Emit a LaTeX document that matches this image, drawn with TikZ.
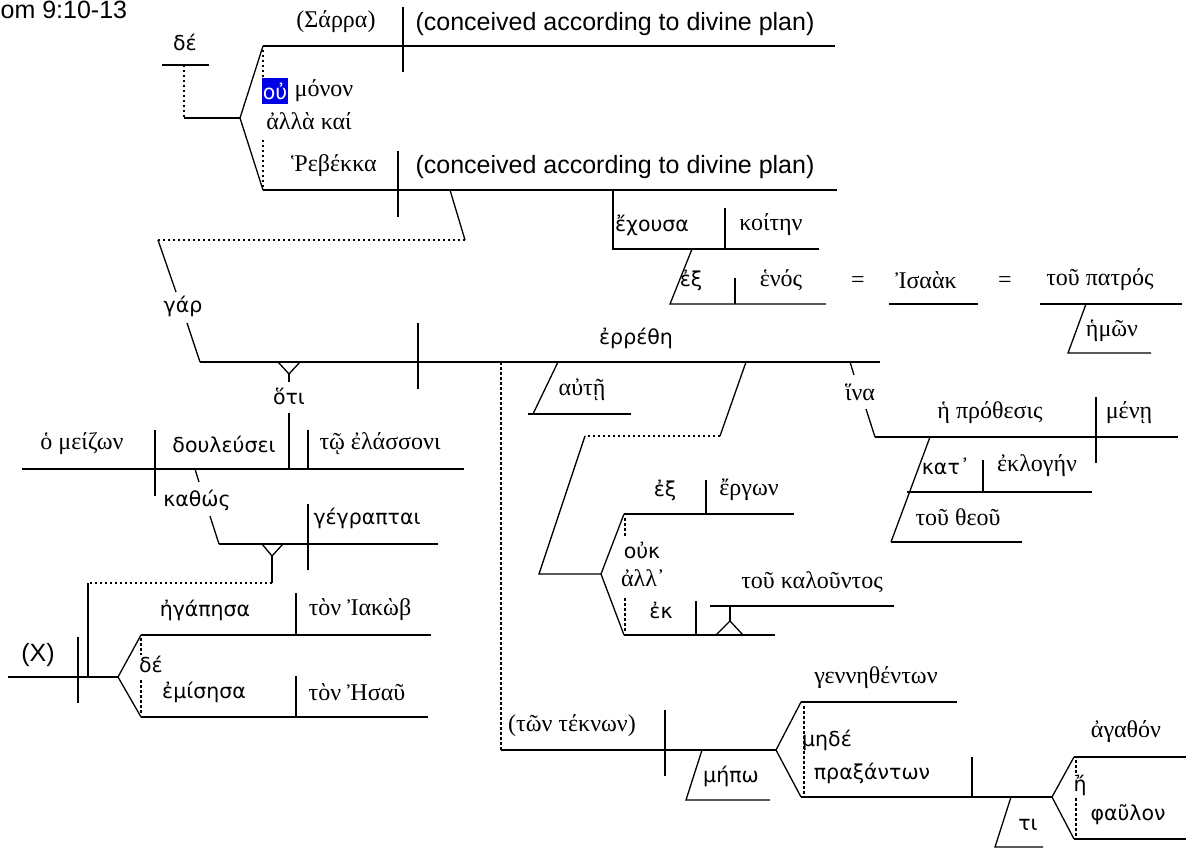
\documentclass[tikz,border=0pt]{standalone}
\usepackage{fontspec}
\setmainfont{Liberation Sans}
\newfontfamily\grserif{Liberation Serif}
\newfontfamily\grsans{DejaVu Sans}
\definecolor{hiblue}{RGB}{0,0,230}

\begin{document}
\begin{tikzpicture}[x=1pt,y=-1pt,line width=1.3pt,
    en/.style={inner sep=0pt,font=\fontsize{25}{28}\selectfont},
    gk/.style={inner sep=0pt,font=\grserif\fontsize{24}{28}\selectfont},
    gs/.style={inner sep=0pt,font=\grsans\fontsize{20.5}{24}\selectfont},
    dotln/.style={line width=1.1pt,dash pattern=on 2.5pt off 2.5pt}]
    \useasboundingbox (0,0) rectangle (1186,850);
    \node[en,anchor=base west] (title) at (0,19) {om 9:10-13};
    % first half: Sarra and Rebekka
    \draw (162,65) -- (209,65);
    \draw[dotln] (184,65) -- (184,118);
    \draw (184,118) -- (240,118);
    \draw (263,46) -- (240,118) -- (263,190);
    \draw (263,46) -- (835,46);
    \draw (403,7) -- (403,72);
    \draw[dotln] (263,50) -- (263,104);
    \draw[dotln] (263,140) -- (263,187);
    \draw (263,190) -- (837,190);
    \draw (398,151) -- (398,217);
    \draw (450,190) -- (465,240);
    \draw[dotln] (465,240) -- (158,240);
    \draw (158,240) -- (176,292);
    \draw (187,323) -- (200,362);
    \node[gs] (de1) at (185,42) {δέ};
    \node[gk] (sarra) at (336,22) {(Σάρρα)};
    \node[en] (plan1) at (615,24) {(conceived according to divine plan)};
    \node[gs,text=white,fill=hiblue,minimum width=26pt,minimum height=26pt] (ou) at (275,91) {οὐ};
    \node[gk] (monon) at (324,91) {μόνον};
    \node[gk] (allakai) at (309,121) {ἀλλὰ καί};
    \node[gk] (rebekka) at (334,166) {Ῥεβέκκα};
    \node[en] (plan2) at (615,167) {(conceived according to divine plan)};
    % echousa koiten ex henos
    \draw (613,190) -- (613,249) -- (819,249);
    \draw (725,208) -- (725,249);
    \draw (692,249) -- (670,304) -- (826,304);
    \draw (735,278) -- (735,304);
    \draw (889,304) -- (978,304);
    \draw (1040,304) -- (1182,304);
    \draw (1086,304) -- (1068,353) -- (1151,353);
    \node[gs] (echousa) at (652,225) {ἔχουσα};
    \node[gk] (koiten) at (771,225) {κοίτην};
    \node[gs] (ex1) at (691,280) {ἐξ};
    \node[gk] (henos) at (781,280) {ἑνός};
    \node[gk] (eq1) at (858,282) {=};
    \node[gk] (isaak) at (926,280) {Ἰσαὰκ};
    \node[gk] (eq2) at (1005,282) {=};
    \node[gk] (patros) at (1100,280) {τοῦ πατρός};
    \node[gk] (hemon) at (1112,331) {ἡμῶν};
    \node[gs] (gar) at (183,306) {γάρ};
    % main clause
    \draw (200,362) -- (880,362);
    \draw (418,323) -- (418,389);
    \node[gs] (errethe) at (636,338) {ἐρρέθη};
    \draw (278,362) -- (289,374) -- (300,362);
    \draw (289,374) -- (289,382);
    \draw (289,413) -- (289,469);
    \node[gs] (hoti) at (289,396) {ὅτι};
    % ho meizon douleusei
    \draw (22,469) -- (464,469);
    \draw (155,430) -- (155,496);
    \draw (308,430) -- (308,469);
    \node[gk] (meizon) at (82,444) {ὁ μείζων};
    \node[gs] (douleusei) at (224,444) {δουλεύσει};
    \node[gk] (elassoni) at (380,444) {τῷ ἐλάσσονι};
    \draw (195,469) -- (199,482);
    \draw (210,516) -- (219,544);
    \node[gs] (kathos) at (197,500) {καθώς};
    \draw (219,544) -- (438,544);
    \draw (308,504) -- (308,570);
    \node[gs] (gegraptai) at (367,518) {γέγραπται};
    \draw (262,544) -- (272,556) -- (283,544);
    \draw (272,556) -- (272,583);
    \draw[dotln] (272,583) -- (88,583);
    \draw (88,583) -- (88,677);
    % Iakob and Esau
    \draw (8,677) -- (118,677);
    \draw (78,637) -- (78,703);
    \draw (141,635) -- (118,677) -- (141,717);
    \draw (141,635) -- (431,635);
    \draw (296,593) -- (296,635);
    \draw (141,717) -- (428,717);
    \draw (296,676) -- (296,717);
    \draw[dotln] (141,638) -- (141,655);
    \draw[dotln] (141,680) -- (141,714);
    \node[en] (X) at (38,655) {(X)};
    \node[gs] (egapesa) at (205,610) {ἠγάπησα};
    \node[gk] (iakob) at (360,610) {τὸν Ἰακὼβ};
    \node[gs] (de2) at (151,664) {δέ};
    \node[gs] (emisesa) at (204,692) {ἐμίσησα};
    \node[gk] (esau) at (357,692) {τὸν Ἠσαῦ};
    % aute
    \draw (558,362) -- (533,414);
    \draw (528,414) -- (631,414);
    \node[gk] (aute) at (582,390) {αὐτῇ};
    % ouk ex ergon all ek tou kalountos
    \draw (746,362) -- (720,436);
    \draw[dotln] (720,436) -- (585,436);
    \draw (585,436) -- (539,574) -- (601,574);
    \draw (624,514) -- (601,574) -- (624,635);
    \draw (624,514) -- (794,514);
    \draw (706,480) -- (706,514);
    \draw (624,635) -- (775,635);
    \draw (696,601) -- (696,635);
    \draw (710,606) -- (894,606);
    \draw (730,606) -- (730,621);
    \draw (716,635) -- (730,621) -- (743,635);
    \draw[dotln] (625,518) -- (625,537);
    \draw[dotln] (625,598) -- (625,632);
    \node[gs] (ex2) at (665,490) {ἐξ};
    \node[gk] (ergon) at (749,490) {ἔργων};
    \node[gs] (ouk) at (642,550) {οὐκ};
    \node[gk] (all) at (643,578) {ἀλλ᾽};
    \node[gs] (ek) at (661,610) {ἐκ};
    \node[gk] (kalountos) at (812,582) {τοῦ καλοῦντος};
    % hina he prothesis mene
    \draw (850,362) -- (854,375);
    \draw (866,409) -- (875,437);
    \node[gk] (hina) at (860,392) {ἵνα};
    \draw (875,437) -- (1178,437);
    \draw (1096,397) -- (1096,463);
    \draw (930,437) -- (891,542);
    \draw (907,492) -- (1092,492);
    \draw (983,460) -- (983,492);
    \draw (891,542) -- (1022,542);
    \node[gk] (prothesis) at (990,413) {ἡ πρόθεσις};
    \node[gk] (mene) at (1129,413) {μένῃ};
    \node[gs] (kat) at (946,466) {κατ᾽};
    \node[gk] (eklogen) at (1037,466) {ἐκλογήν};
    \node[gk] (theou) at (958,517) {τοῦ θεοῦ};
    % ton teknon
    \draw[dotln] (501,362) -- (501,750);
    \draw (501,750) -- (776,750);
    \draw (665,710) -- (665,776);
    \draw (702,750) -- (686,800) -- (770,800);
    \draw (801,702) -- (776,750) -- (801,797);
    \draw (801,702) -- (957,702);
    \draw (801,797) -- (1052,797);
    \draw (972,757) -- (972,797);
    \draw[dotln] (804,706) -- (804,795);
    \draw (1011,797) -- (995,847) -- (1043,847);
    \draw (1074,757) -- (1052,797) -- (1074,839);
    \draw (1074,757) -- (1186,757);
    \draw (1074,839) -- (1186,839);
    \draw[dotln] (1076,760) -- (1076,776);
    \draw[dotln] (1076,798) -- (1076,836);
    \node[gk] (teknon) at (572,726) {(τῶν τέκνων)};
    \node[gs] (mepo) at (731,776) {μήπω};
    \node[gk] (gennethenton) at (876,678) {γεννηθέντων};
    \node[gs] (mede) at (827,740) {μηδέ};
    \node[gs] (praxanton) at (872,773) {πραξάντων};
    \node[gs] (ti) at (1028,825) {τι};
    \node[gk] (agathon) at (1126,732) {ἀγαθόν};
    \node[gs] (e) at (1080,785) {ἤ};
    \node[gs] (phaulon) at (1128,815) {φαῦλον};
\end{tikzpicture}
\end{document}
